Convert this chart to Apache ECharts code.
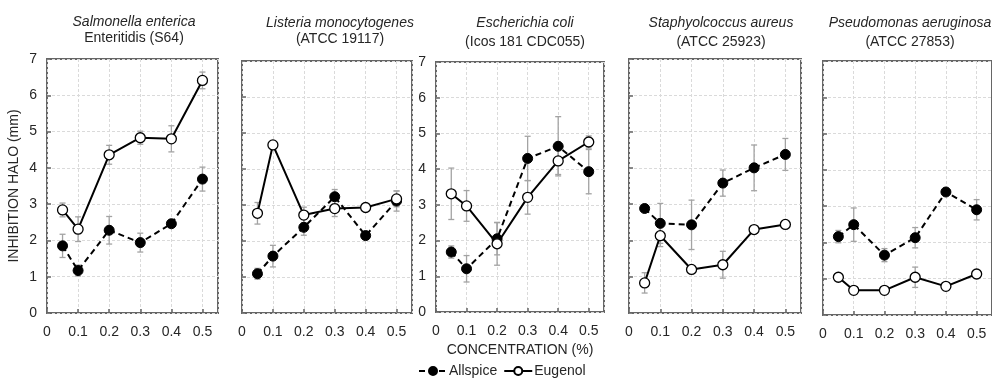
<!DOCTYPE html>
<html>
<head>
<meta charset="utf-8">
<script src="https://cdn.jsdelivr.net/npm/echarts@6/dist/echarts.min.js"></script>
<style>
html,body{margin:0;padding:0;background:#fff;}
#chart{width:992px;height:378px;}
</style>
</head>
<body>
<div id="chart"></div>
<script>
// ---- data ----
const concentrations = [0.05, 0.1, 0.2, 0.3, 0.4, 0.5];
const xTickLabels = ['0', '0.1', '0.2', '0.3', '0.4', '0.5'];
const yTickLabels = ['0', '1', '2', '3', '4', '5', '6', '7'];
const seriesNames = ['Allspice', 'Eugenol'];

const panelTitles1 = ['Salmonella enterica', 'Listeria monocytogenes', 'Escherichia coli', 'Staphyolcoccus aureus', 'Pseudomonas aeruginosa'];
const panelTitles2 = ['Enteritidis (S64)', '(ATCC 19117)', '(Icos 181 CDC055)', '(ATCC 25923)', '(ATCC 27853)'];

const salmonellaAllspice    = [1.85, 1.17, 2.28, 1.94, 2.46, 3.69];
const salmonellaAllspiceErr = [0.32, 0.15, 0.38, 0.26, 0.05, 0.33];
const salmonellaEugenol     = [2.84, 2.31, 4.36, 4.83, 4.80, 6.41];
const salmonellaEugenolErr  = [0.19, 0.34, 0.26, 0.18, 0.36, 0.23];

const listeriaAllspice      = [1.09, 1.58, 2.38, 3.23, 2.15, 3.11];
const listeriaAllspiceErr   = [0.15, 0.30, 0.22, 0.20, 0.05, 0.28];
const listeriaEugenol       = [2.77, 4.67, 2.72, 2.90, 2.93, 3.17];
const listeriaEugenolErr    = [0.30, 0.05, 0.22, 0.22, 0.05, 0.22];

const coliAllspice          = [1.68, 1.21, 2.05, 4.30, 4.64, 3.93];
const coliAllspiceErr       = [0.17, 0.37, 0.45, 0.62, 0.83, 0.62];
const coliEugenol           = [3.31, 2.97, 1.91, 3.21, 4.23, 4.76];
const coliEugenolErr        = [0.72, 0.43, 0.60, 0.47, 0.38, 0.17];

const aureusAllspice        = [2.88, 2.47, 2.43, 3.58, 4.00, 4.37];
const aureusAllspiceErr     = [0.08, 0.55, 0.68, 0.36, 0.63, 0.44];
const aureusEugenol         = [0.83, 2.13, 1.20, 1.33, 2.30, 2.44];
const aureusEugenolErr      = [0.28, 0.30, 0.05, 0.37, 0.05, 0.05];

const aeruginosaAllspice    = [2.16, 2.49, 1.65, 2.13, 3.39, 2.90];
const aeruginosaAllspiceErr = [0.17, 0.46, 0.18, 0.28, 0.05, 0.28];
const aeruginosaEugenol     = [1.04, 0.68, 0.68, 1.04, 0.79, 1.13];
const aeruginosaEugenolErr  = [0.05, 0.05, 0.05, 0.28, 0.05, 0.05];

const panelData = [
  [salmonellaAllspice, salmonellaAllspiceErr, salmonellaEugenol, salmonellaEugenolErr],
  [listeriaAllspice, listeriaAllspiceErr, listeriaEugenol, listeriaEugenolErr],
  [coliAllspice, coliAllspiceErr, coliEugenol, coliEugenolErr],
  [aureusAllspice, aureusAllspiceErr, aureusEugenol, aureusEugenolErr],
  [aeruginosaAllspice, aeruginosaAllspiceErr, aeruginosaEugenol, aeruginosaEugenolErr]
];

// ---- layout ----
const FONT = '"Liberation Sans", Arial, sans-serif';
const TXT = '#262626';
const grids = [
  {left: 47,  top: 59, width: 171, height: 254},
  {left: 242, top: 61, width: 170, height: 252},
  {left: 436, top: 62, width: 168, height: 250},
  {left: 629, top: 59, width: 172, height: 254},
  {left: 823, top: 61, width: 171, height: 254}
];
const titlePos = [
  {x: 134, y1: 22, y2: 38},
  {x: 340, y1: 23, y2: 39},
  {x: 525, y1: 23, y2: 42},
  {x: 721, y1: 23, y2: 42},
  {x: 910, y1: 23, y2: 42}
];
const showYLabels = [true, false, true, false, false];

const option = {
  animation: false,
  backgroundColor: '#fff',
  textStyle: {fontFamily: FONT},
  grid: [], xAxis: [], yAxis: [], series: [], graphic: [],
  legend: {
    data: seriesNames,
    left: 418, top: 364, padding: 0,
    itemWidth: 28, itemHeight: 10, itemGap: 6,
    textStyle: {fontSize: 14, color: TXT, fontFamily: FONT, padding: [0, 0, 0, -3]}
  }
};

function errRender(params, api) {
  const x = api.value(0), y = api.value(1), e = api.value(2);
  const hi = api.coord([x, y + e]);
  const lo = api.coord([x, y - e]);
  const c = 3;
  const st = {stroke: '#a3a3a3', lineWidth: 1.3};
  return {
    type: 'group',
    children: [
      {type: 'line', shape: {x1: hi[0], y1: hi[1], x2: lo[0], y2: lo[1]}, style: st},
      {type: 'line', shape: {x1: hi[0] - c, y1: hi[1], x2: hi[0] + c, y2: hi[1]}, style: st},
      {type: 'line', shape: {x1: lo[0] - c, y1: lo[1], x2: lo[0] + c, y2: lo[1]}, style: st}
    ]
  };
}

grids.forEach((g, i) => {
  option.grid.push(Object.assign({show: true, borderColor: '#666', borderWidth: 2, containLabel: false}, g));
  option.xAxis.push({
    type: 'value', gridIndex: i, min: 0, max: 0.55, interval: 0.1,
    axisLine: {show: false},
    axisTick: {show: true, inside: true, length: 4, lineStyle: {color: '#666', width: 1.5}},
    splitLine: {show: true, lineStyle: {color: '#dadada', type: [3, 2], width: 1}},
    axisLabel: {
      show: true, fontSize: 14, color: TXT, fontFamily: FONT, margin: 12,
      showMaxLabel: false,
      formatter: function (v) {
        const k = Math.round(v * 10);
        if (Math.abs(v * 10 - k) > 1e-6) return '';
        return xTickLabels[k] !== undefined ? xTickLabels[k] : '';
      }
    },
    name: i === 2 ? 'CONCENTRATION (%)' : '',
    nameLocation: 'middle', nameGap: 30,
    nameTextStyle: {fontSize: 14, color: TXT, fontFamily: FONT}
  });
  option.yAxis.push({
    type: 'value', gridIndex: i, min: 0, max: 7, interval: 1,
    axisLine: {show: false},
    axisTick: {show: true, inside: true, length: 4, lineStyle: {color: '#666', width: 1.5}},
    splitLine: {show: true, lineStyle: {color: '#dadada', type: [3, 2], width: 1}},
    axisLabel: {
      show: showYLabels[i], fontSize: 14, color: TXT, fontFamily: FONT, margin: 10,
      formatter: function (v) { return yTickLabels[Math.round(v)]; }
    },
    name: i === 0 ? 'INHIBITION HALO (mm)' : '',
    nameLocation: 'middle', nameGap: 26,
    nameTextStyle: {fontSize: 14, color: TXT, fontFamily: FONT}
  });

  const [aVal, aErr, eVal, eErr] = panelData[i];
  const aPts = concentrations.map((c, j) => [c, aVal[j]]);
  const ePts = concentrations.map((c, j) => [c, eVal[j]]);
  const aErrPts = concentrations.map((c, j) => [c, aVal[j], aErr[j]]);
  const eErrPts = concentrations.map((c, j) => [c, eVal[j], eErr[j]]);

  option.series.push({
    type: 'custom', xAxisIndex: i, yAxisIndex: i, renderItem: errRender,
    data: aErrPts, z: 1, silent: true
  });
  option.series.push({
    type: 'custom', xAxisIndex: i, yAxisIndex: i, renderItem: errRender,
    data: eErrPts, z: 1, silent: true
  });
  option.series.push({
    name: 'Allspice', type: 'line', xAxisIndex: i, yAxisIndex: i, data: aPts,
    symbol: 'circle', symbolSize: 10, showAllSymbol: true, z: 3,
    itemStyle: {color: '#000', borderColor: '#000', borderWidth: 1},
    lineStyle: {color: '#000', width: 2, type: [6, 4]}
  });
  option.series.push({
    name: 'Eugenol', type: 'line', xAxisIndex: i, yAxisIndex: i, data: ePts,
    symbol: 'circle', symbolSize: 10, showAllSymbol: true, z: 4,
    itemStyle: {color: '#fff', borderColor: '#000', borderWidth: 1.3},
    lineStyle: {color: '#000', width: 2, type: 'solid'}
  });

  const t = titlePos[i];
  option.graphic.push({
    type: 'text', x: t.x, y: t.y1,
    style: {text: panelTitles1[i], font: 'italic 14px ' + FONT, fill: TXT, align: 'center', verticalAlign: 'middle'}
  });
  option.graphic.push({
    type: 'text', x: t.x, y: t.y2,
    style: {text: panelTitles2[i], font: '14px ' + FONT, fill: TXT, align: 'center', verticalAlign: 'middle'}
  });
});

const chart = echarts.init(document.getElementById('chart'), null, {renderer: 'canvas'});
chart.setOption(option);
</script>
</body>
</html>
